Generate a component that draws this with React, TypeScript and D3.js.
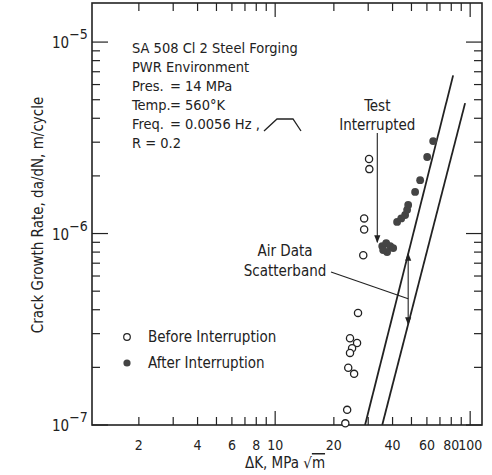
import React, { useEffect, useRef } from 'react';
import * as d3 from 'd3';

// Before interruption (open circles)
const beforeK = [30.3, 30.4, 28.6, 28.6, 28.3, 26.6, 24.2, 26.3, 24.8, 24.2, 23.7, 25.4, 23.4, 22.9];
const beforeRate = [2.45e-6, 2.17e-6, 1.2e-6, 1.05e-6, 7.7e-7, 3.85e-7, 2.84e-7, 2.68e-7, 2.52e-7, 2.38e-7, 1.99e-7, 1.85e-7, 1.2e-7, 1.02e-7];

// After interruption (filled circles)
const afterK = [35.4, 37.1, 38.9, 40.3, 37.5, 35.8, 42.2, 44.3, 46.4, 47.5, 48.1, 52.2, 55.4, 60.2, 64.6];
const afterRate = [8.6e-7, 8.9e-7, 8.6e-7, 8.4e-7, 8.0e-7, 8.2e-7, 1.15e-6, 1.2e-6, 1.25e-6, 1.33e-6, 1.41e-6, 1.65e-6, 1.9e-6, 2.51e-6, 3.04e-6];

// air data scatterband bounds
const bandUpperK = [28.9, 81.8];
const bandUpperRate = [1e-7, 6.7e-6];
const bandLowerK = [35.4, 94.2];
const bandLowerRate = [1e-7, 4.8e-6];

const xTickLabels = [2, 4, 6, 8, 10, 20, 40, 60, 80, 100];
const xMinorTicks = [2, 3, 4, 5, 6, 7, 8, 9, 20, 30, 40, 50, 60, 70, 80, 90];
const xMajorTicks = [10, 100];
const yMajorTicks = [1e-7, 1e-6, 1e-5];
const yExponents = ['−7', '−6', '−5'];
const yMinorTicks = [2, 3, 4, 5, 6, 7, 8, 9].flatMap(m => [m * 1e-7, m * 1e-6]);

const infoLines = [
  ['SA 508 Cl 2 Steel Forging', ''],
  ['PWR Environment', ''],
  ['Pres.', '= 14 MPa'],
  ['Temp.', '= 560°K'],
  ['Freq.', '= 0.0056 Hz ,'],
  ['R = 0.2', ''],
];

const testPointK = 33.4;
const testArrowRate = [3.35e-6, 9.0e-7];
const bandArrowK = 48.1;

const FONT = "'Liberation Sans Narrow', 'DejaVu Sans Condensed', 'Arial Narrow', sans-serif";
const INK = '#222';
const DOT = '#444';

const App = () => {
  const ref = useRef<SVGSVGElement>(null);
  const width = 492;
  const height = 475;

  useEffect(() => {
    const svg = d3.select(ref.current);
    svg.selectAll('*').remove();

    const left = 92, right = 482, top = 3, bottom = 425;

    const x = d3.scaleLog().domain([1.15, 115]).range([left, right]);
    const y = d3.scaleLog().domain([1e-7, 1.6e-5]).range([bottom, top]);

    const defs = svg.append('defs');
    defs.append('marker')
      .attr('id', 'arr')
      .attr('viewBox', '0 0 10 10')
      .attr('refX', 9).attr('refY', 5)
      .attr('markerWidth', 7).attr('markerHeight', 7)
      .attr('orient', 'auto-start-reverse')
      .append('path')
      .attr('d', 'M0,1 L10,5 L0,9 Z')
      .attr('fill', INK);
    defs.append('clipPath').attr('id', 'plot')
      .append('rect').attr('x', left).attr('y', top)
      .attr('width', right - left).attr('height', bottom - top);

    // frame
    svg.append('rect')
      .attr('x', left).attr('y', top)
      .attr('width', right - left).attr('height', bottom - top)
      .attr('fill', 'none').attr('stroke', INK).attr('stroke-width', 1.6);

    // x ticks (bottom + top, inward)
    const xt = svg.append('g').attr('stroke', INK).attr('stroke-width', 1.2);
    [...xMinorTicks.map(v => [v, 8]), ...xMajorTicks.map(v => [v, 14])].forEach(([v, len]) => {
      xt.append('line').attr('x1', x(v)).attr('x2', x(v)).attr('y1', bottom).attr('y2', bottom - len);
      xt.append('line').attr('x1', x(v)).attr('x2', x(v)).attr('y1', top).attr('y2', top + len);
    });

    // y ticks (left + right, inward)
    const yt = svg.append('g').attr('stroke', INK).attr('stroke-width', 1.2);
    [...yMinorTicks.map(v => [v, 8]), ...yMajorTicks.map(v => [v, 16])].forEach(([v, len]) => {
      yt.append('line').attr('x1', left).attr('x2', left + len).attr('y1', y(v)).attr('y2', y(v));
      yt.append('line').attr('x1', right).attr('x2', right - len).attr('y1', y(v)).attr('y2', y(v));
    });

    // tick labels
    svg.append('g')
      .selectAll('text')
      .data(xTickLabels)
      .enter()
      .append('text')
      .attr('x', d => x(d))
      .attr('y', 450)
      .attr('text-anchor', 'middle')
      .attr('font-family', FONT)
      .attr('font-size', 14)
      .attr('fill', INK)
      .text(d => d);

    const yl = svg.append('g').attr('font-family', FONT).attr('fill', INK);
    yMajorTicks.forEach((v, i) => {
      const t = yl.append('text').attr('x', 52).attr('y', y(v) + 6).attr('font-size', 15);
      t.append('tspan').text('10');
      t.append('tspan').attr('dy', -9).attr('font-size', 14).text(yExponents[i]);
    });

    // axis titles
    const xt2 = svg.append('text')
      .attr('x', 285).attr('y', 468)
      .attr('text-anchor', 'middle')
      .attr('font-family', FONT).attr('font-size', 15).attr('fill', INK);
    xt2.append('tspan').text('ΔK, MPa ');
    xt2.append('tspan').text('√');
    xt2.append('tspan').style('text-decoration', 'overline').text('m');

    svg.append('text')
      .attr('transform', 'translate(43,215) rotate(-90)')
      .attr('text-anchor', 'middle')
      .attr('font-family', FONT).attr('font-size', 15).attr('fill', INK)
      .text('Crack Growth Rate, da/dN,  m/cycle');

    // info block
    const info = svg.append('g').attr('font-family', FONT).attr('font-size', 14.5).attr('fill', INK);
    infoLines.forEach(([a, b], i) => {
      const yy = 53 + i * 19;
      info.append('text').attr('x', 132).attr('y', yy).text(a);
      if (b) info.append('text').attr('x', 170).attr('y', yy).text(b);
    });
    // trapezoid waveform glyph
    svg.append('path')
      .attr('d', 'M264,131 L277,119 L293,119 L301,131')
      .attr('fill', 'none').attr('stroke', INK).attr('stroke-width', 1.3);

    // scatterband
    const line = d3.line<[number, number]>().x(d => x(d[0])).y(d => y(d[1]));
    const band = svg.append('g').attr('clip-path', 'url(#plot)')
      .attr('fill', 'none').attr('stroke', INK).attr('stroke-width', 1.8);
    band.append('path').attr('d', line(d3.zip(bandUpperK, bandUpperRate) as [number, number][]));
    band.append('path').attr('d', line(d3.zip(bandLowerK, bandLowerRate) as [number, number][]));

    // rate on a band line at a given K (log-log straight line)
    const bandAt = (ks: number[], rs: number[], k: number) => {
      const t = (Math.log(k) - Math.log(ks[0])) / (Math.log(ks[1]) - Math.log(ks[0]));
      return Math.exp(Math.log(rs[0]) + t * (Math.log(rs[1]) - Math.log(rs[0])));
    };
    const ax = x(bandArrowK);
    const ayTop = y(bandAt(bandUpperK, bandUpperRate, bandArrowK));
    const ayBot = y(bandAt(bandLowerK, bandLowerRate, bandArrowK));
    svg.append('line')
      .attr('x1', ax).attr('x2', ax).attr('y1', ayTop).attr('y2', ayBot)
      .attr('stroke', INK).attr('stroke-width', 1.1)
      .attr('marker-start', 'url(#arr)').attr('marker-end', 'url(#arr)');
    svg.append('line')
      .attr('x1', 331).attr('y1', 272).attr('x2', ax).attr('y2', ayTop + 45)
      .attr('stroke', INK).attr('stroke-width', 1.1);
    const bt = svg.append('g').attr('font-family', FONT).attr('font-size', 15)
      .attr('fill', INK).attr('text-anchor', 'middle');
    bt.append('text').attr('x', 285).attr('y', 256).text('Air Data');
    bt.append('text').attr('x', 285).attr('y', 276).text('Scatterband');

    // test interrupted arrow
    const tx = x(testPointK);
    svg.append('line')
      .attr('x1', tx).attr('x2', tx)
      .attr('y1', y(testArrowRate[0])).attr('y2', y(testArrowRate[1]))
      .attr('stroke', INK).attr('stroke-width', 1.1)
      .attr('marker-end', 'url(#arr)');
    bt.append('text').attr('x', tx).attr('y', 111).text('Test');
    bt.append('text').attr('x', tx).attr('y', 130).text('Interrupted');

    // data
    svg.append('g')
      .selectAll('circle')
      .data(d3.zip(beforeK, beforeRate))
      .enter()
      .append('circle')
      .attr('cx', d => x(d[0]))
      .attr('cy', d => y(d[1]))
      .attr('r', 3.6)
      .attr('fill', '#fff')
      .attr('stroke', INK)
      .attr('stroke-width', 1.3);

    svg.append('g')
      .selectAll('circle')
      .data(d3.zip(afterK, afterRate))
      .enter()
      .append('circle')
      .attr('cx', d => x(d[0]))
      .attr('cy', d => y(d[1]))
      .attr('r', 3.9)
      .attr('fill', DOT);

    // legend
    const legend = svg.append('g').attr('font-family', FONT).attr('font-size', 15).attr('fill', INK);
    legend.append('circle').attr('cx', 127).attr('cy', 337).attr('r', 3.3)
      .attr('fill', '#fff').attr('stroke', INK).attr('stroke-width', 1.2);
    legend.append('text').attr('x', 148).attr('y', 342).text('Before Interruption');
    legend.append('circle').attr('cx', 127).attr('cy', 363).attr('r', 3.6).attr('fill', DOT);
    legend.append('text').attr('x', 148).attr('y', 368).text('After Interruption');
  }, []);

  return (
    <svg
      ref={ref}
      width={width}
      height={height}
      viewBox={`0 0 ${width} ${height}`}
      style={{ position: 'absolute', left: 0, top: 0, background: '#fff' }}
    />
  );
};

export default App;
